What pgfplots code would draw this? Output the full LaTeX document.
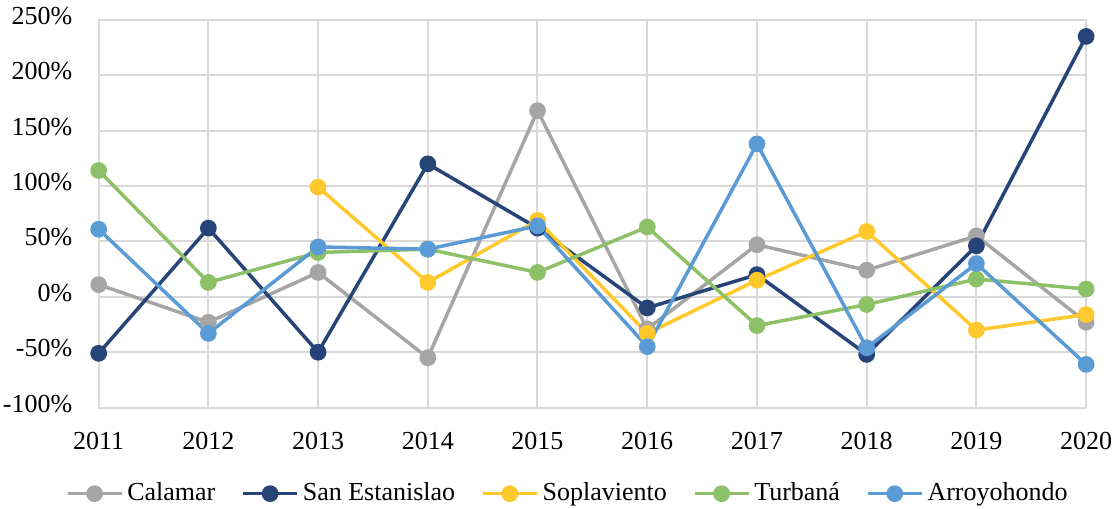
\documentclass[border=0pt]{standalone}
\usepackage{fontspec}
\setmainfont{Liberation Serif}
\usepackage{pgfplots}
\pgfplotsset{compat=1.18}
\definecolor{cgray}{HTML}{A5A5A5}
\definecolor{cdark}{HTML}{264478}
\definecolor{cyel}{HTML}{FFC92E}
\definecolor{cgreen}{HTML}{8CC168}
\definecolor{cblue}{HTML}{5B9BD5}
\definecolor{cgrid}{HTML}{D9D9D9}
\begin{document}
\fontsize{13}{15.6}\selectfont
\begin{tikzpicture}
\begin{axis}[
  scale only axis,
  width=494pt, height=194pt,
  xmin=2011, xmax=2020, ymin=-100, ymax=250,
  xtick={2011,...,2020},
  xticklabels={2011,2012,2013,2014,2015,2016,2017,2018,2019,2020},
  ytick={-100,-50,0,50,100,150,200,250},
  yticklabels={-100\%,-50\%,0\%,50\%,100\%,150\%,200\%,250\%},
  grid=major,
  major grid style={cgrid, line width=1pt},
  axis line style={cgrid, line width=1pt},
  major tick length=0pt,
  tick label style={font=\fontsize{13}{15.6}\selectfont, inner xsep=1.5pt, inner ysep=3.5pt},
  xticklabel style={yshift=-8.5pt},
  yticklabel style={xshift=-11.5pt, yshift=2pt},
  every axis plot/.append style={line width=1.75pt, mark=*, mark size=3.3pt},
  legend columns=5,
  legend style={draw=none, at={(0.476,-0.222)}, anchor=center,
    font=\fontsize{13}{15.6}\selectfont, inner sep=0pt,
    /tikz/every even column/.append style={column sep=11pt}},
  legend image code/.code={
    \draw[#1, mark=none] (0cm,0cm) -- (0.95cm,0cm);
    \draw[#1, only marks] plot coordinates {(0.475cm,0cm)};
  },
]
\addplot[cgray, mark options={fill=cgray}] coordinates {
(2011,11) (2012,-23) (2013,22) (2014,-55) (2015,168) (2016,-29) (2017,47) (2018,24) (2019,55) (2020,-23)};
\addlegendentry{Calamar}
\addplot[cdark, mark options={fill=cdark}] coordinates {
(2011,-51) (2012,62) (2013,-50) (2014,120) (2015,62) (2016,-10) (2017,20) (2018,-52) (2019,46) (2020,235)};
\addlegendentry{San Estanislao}
\addplot[cyel, mark options={fill=cyel}] coordinates {
(2013,99) (2014,13) (2015,69) (2016,-33) (2017,15) (2018,59) (2019,-30) (2020,-16)};
\addlegendentry{Soplaviento}
\addplot[cgreen, mark options={fill=cgreen}] coordinates {
(2011,114) (2012,13) (2013,40) (2014,43) (2015,22) (2016,63) (2017,-26) (2018,-7) (2019,16) (2020,7)};
\addlegendentry{Turbaná}
\addplot[cblue, mark options={fill=cblue}] coordinates {
(2011,61) (2012,-33) (2013,45) (2014,43) (2015,64) (2016,-45) (2017,138) (2018,-46) (2019,30) (2020,-61)};
\addlegendentry{Arroyohondo}
\end{axis}
\end{tikzpicture}
\end{document}
